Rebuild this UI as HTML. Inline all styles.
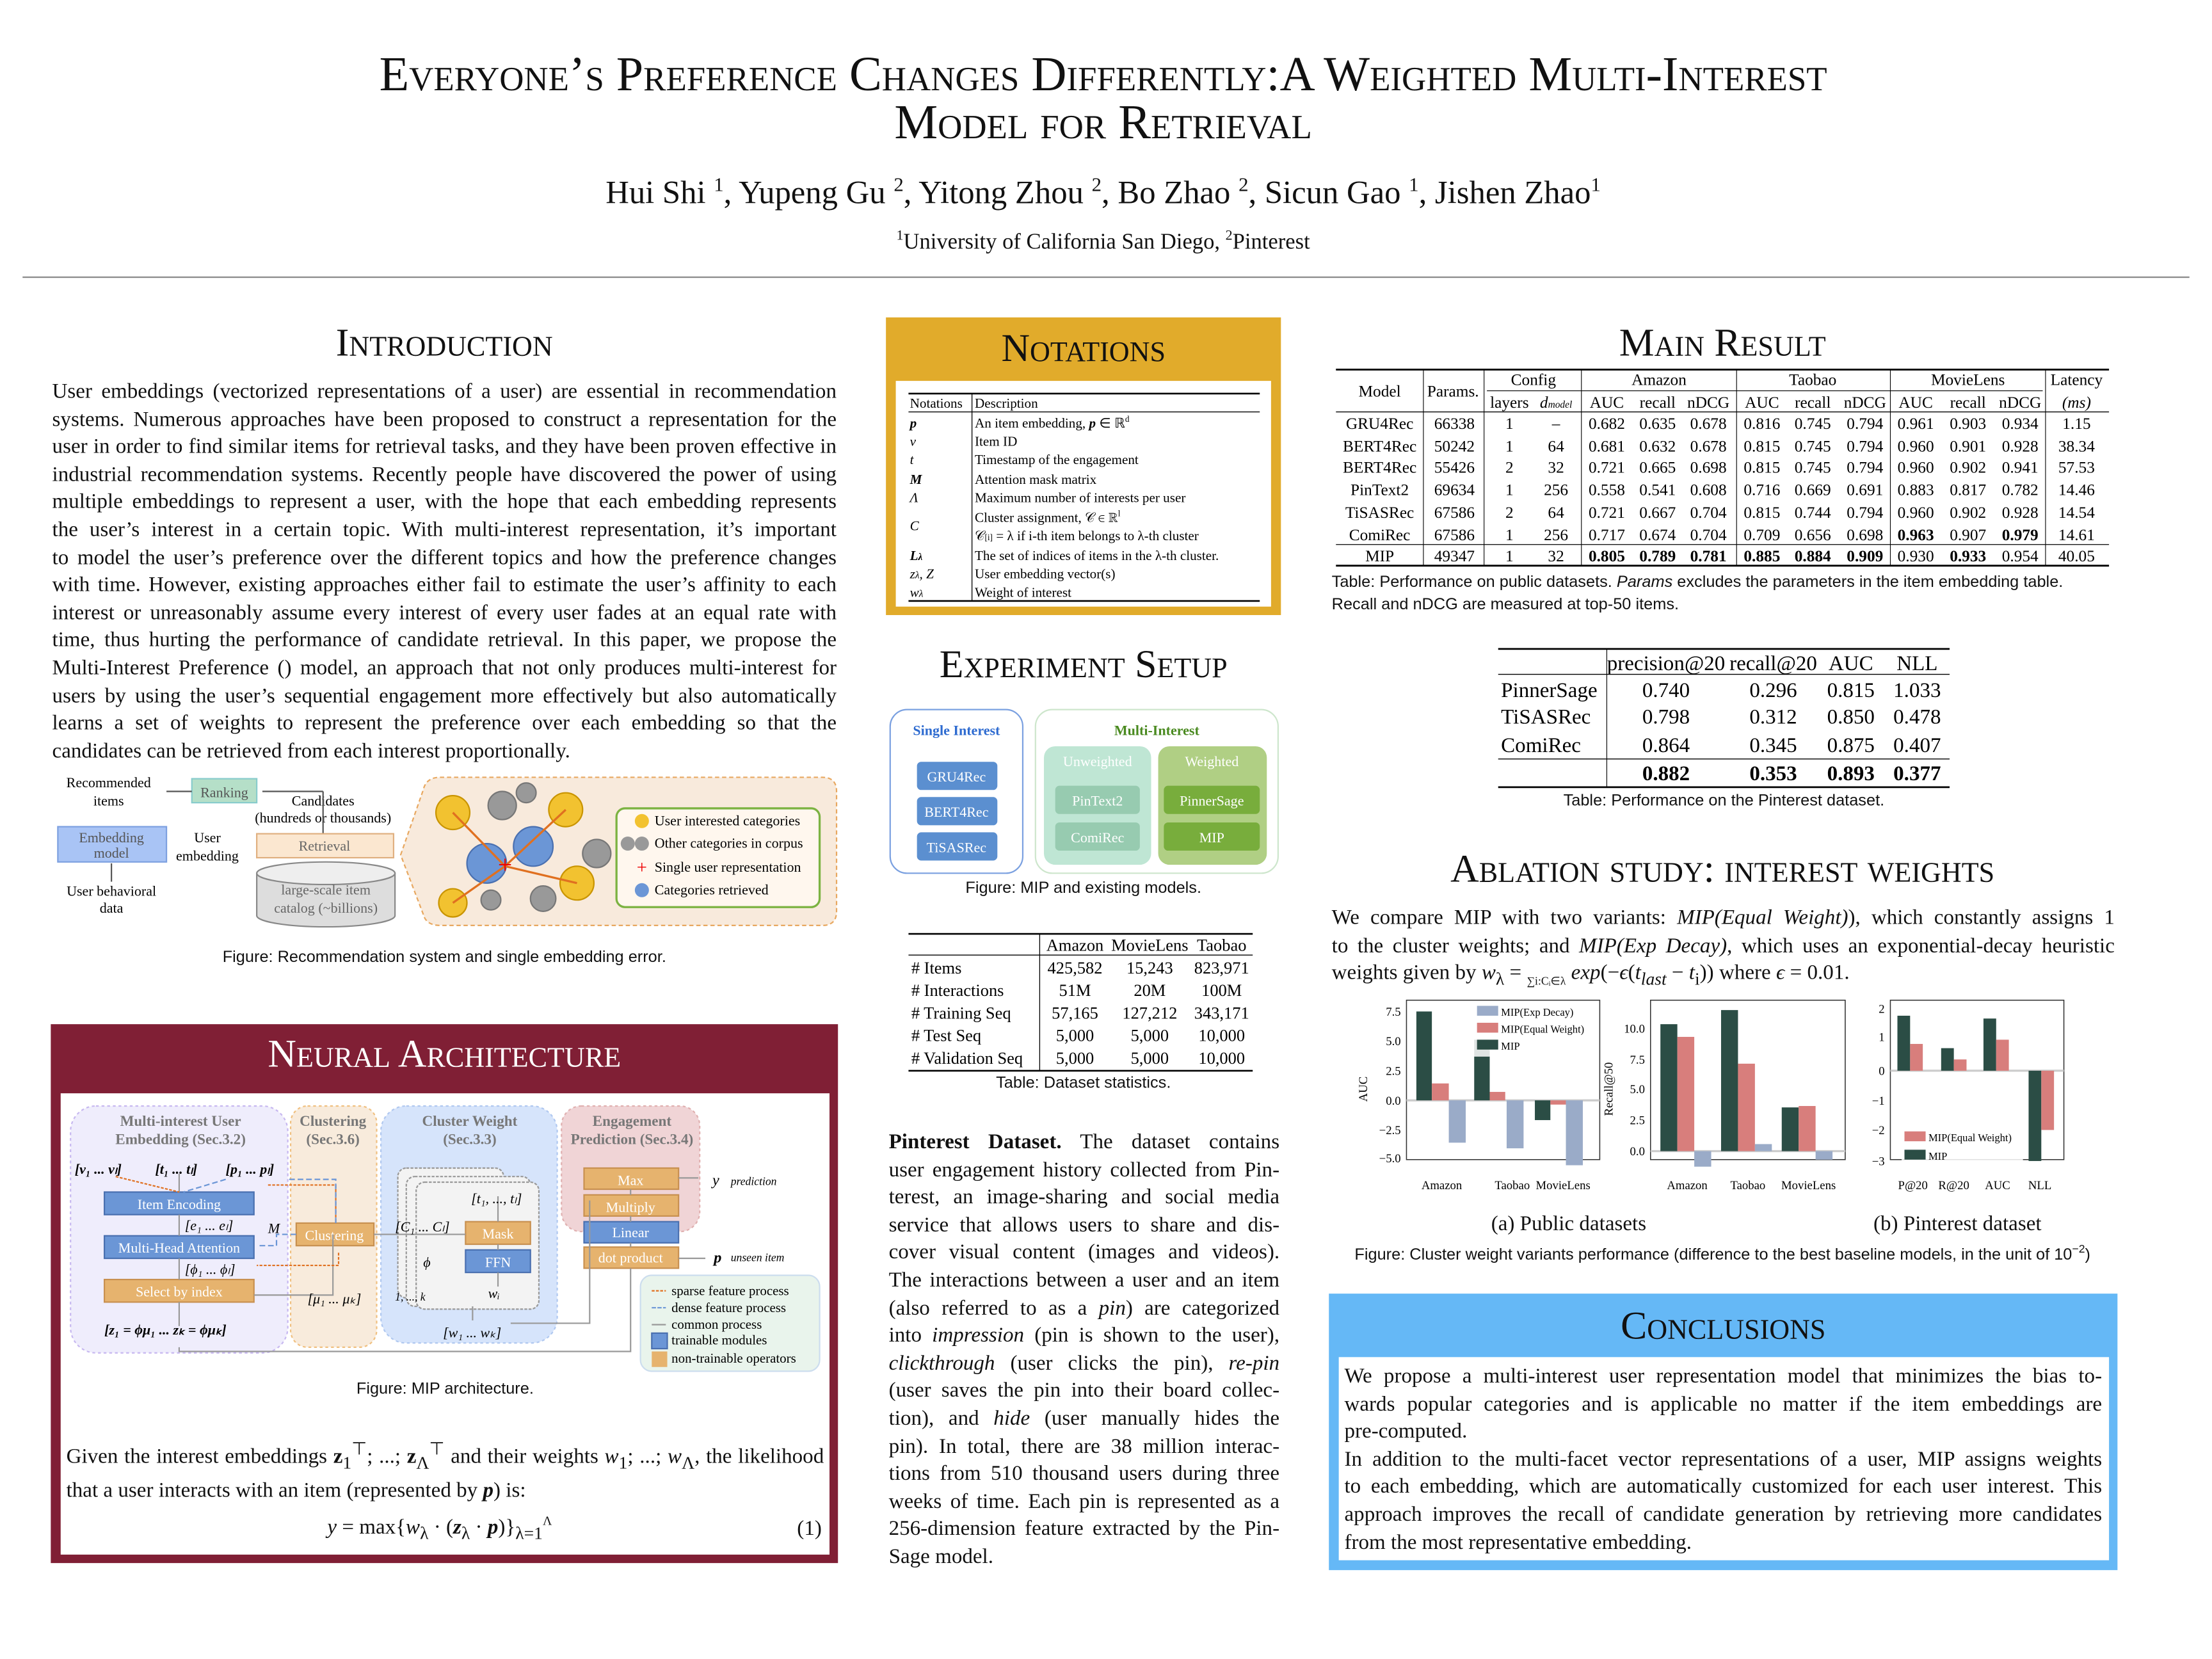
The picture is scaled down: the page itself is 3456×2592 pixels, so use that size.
<!DOCTYPE html>
<html><head><meta charset="utf-8">
<style>
*{margin:0;padding:0;box-sizing:border-box}
html,body{width:3456px;height:2592px;overflow:hidden;background:#fff}
#pg{position:absolute;left:0;top:0;width:1568px;height:1176px;transform:scale(2.20408);transform-origin:0 0;font-family:"Liberation Serif",serif;color:#111}
.a{position:absolute}
.h{font-variant:small-caps;text-align:center;white-space:nowrap}
.cap{font-family:"Liberation Sans",sans-serif;font-size:11.5px;text-align:center;white-space:nowrap}
.p{font-size:15px;line-height:19.6px}
.p span{display:block;text-align:justify;text-align-last:justify;white-space:nowrap}
.p span.l{text-align-last:left}
svg text{font-family:"Liberation Serif",serif}
</style></head><body><div id="pg">

<div class="a h" style="left:0;width:1564px;top:36px;font-size:34.6px;line-height:34px">Everyone’s Preference Changes Differently:A Weighted Multi-Interest<br>Model for Retrieval</div>
<div class="a" style="left:0;width:1564px;top:124px;font-size:23px;text-align:center">Hui Shi <sup style="font-size:14px">1</sup>, Yupeng Gu <sup style="font-size:14px">2</sup>, Yitong Zhou <sup style="font-size:14px">2</sup>, Bo Zhao <sup style="font-size:14px">2</sup>, Sicun Gao <sup style="font-size:14px">1</sup>, Jishen Zhao<sup style="font-size:14px">1</sup></div>
<div class="a" style="left:0;width:1564px;top:162px;font-size:15.7px;text-align:center"><sup style="font-size:10px">1</sup>University of California San Diego, <sup style="font-size:10px">2</sup>Pinterest</div>
<div class="a" style="left:16px;top:196px;width:1536px;height:1px;background:#888"></div>

<!-- Introduction -->
<div class="a h" style="left:37px;width:556px;top:228px;font-size:28px">Introduction</div>
<div class="a p" style="left:37px;top:269px;width:556px">
<span>User embeddings (vectorized representations of a user) are essential in recommendation</span>
<span>systems. Numerous approaches have been proposed to construct a representation for the</span>
<span>user in order to find similar items for retrieval tasks, and they have been proven effective in</span>
<span>industrial recommendation systems. Recently people have discovered the power of using</span>
<span>multiple embeddings to represent a user, with the hope that each embedding represents</span>
<span>the user’s interest in a certain topic. With multi-interest representation, it’s important</span>
<span>to model the user’s preference over the different topics and how the preference changes</span>
<span>with time. However, existing approaches either fail to estimate the user’s affinity to each</span>
<span>interest or unreasonably assume every interest of every user fades at an equal rate with</span>
<span>time, thus hurting the performance of candidate retrieval. In this paper, we propose the</span>
<span>Multi-Interest Preference () model, an approach that not only produces multi-interest for</span>
<span>users by using the user’s sequential engagement more effectively but also automatically</span>
<span>learns a set of weights to represent the preference over each embedding so that the</span>
<span class="l">candidates can be retrieved from each interest proportionally.</span>
</div>

<!-- Fig 1 -->
<svg class="a" style="left:36px;top:545px" width="560" height="120" viewBox="36 545 560 120">
<g font-size="10" text-anchor="middle">
<text x="77" y="558">Recommended</text><text x="77" y="571">items</text>
<rect x="136" y="552" width="46" height="17" fill="#b5dfc8" stroke="#8cc"/><text x="159" y="565" fill="#555">Ranking</text>
<line x1="136" y1="561" x2="118" y2="561" stroke="#555"/>
<text x="229" y="571">Candidates</text><text x="229" y="583">(hundreds or thousands)</text>
<line x1="229" y1="561" x2="229" y2="592" stroke="#555"/><line x1="229" y1="561" x2="186" y2="561" stroke="#555"/>
<rect x="41" y="586" width="77" height="25" fill="#a9c4f5" stroke="#7da0e0"/><text x="79" y="597" fill="#555">Embedding</text><text x="79" y="608" fill="#555">model</text>
<text x="147" y="597">User</text><text x="147" y="610">embedding</text>
<rect x="182" y="591" width="97" height="17" fill="#fbe7d0" stroke="#e0b080"/><text x="230" y="603" fill="#666">Retrieval</text>
<text x="79" y="635">User behavioral</text><text x="79" y="647">data</text>
<line x1="79" y1="625" x2="79" y2="612" stroke="#555"/>
<path d="M182 619 v30 a49 8 0 0 0 98 0 v-30" fill="#ddd" stroke="#888"/><ellipse cx="231" cy="619" rx="49" ry="8" fill="#eee" stroke="#888"/>
<text x="231" y="634" fill="#666">large-scale item</text><text x="231" y="647" fill="#666">catalog (~billions)</text>
</g>
<path d="M284 606 L300 560 Q302 551 312 551 L583 551 Q593 551 593 561 L593 646 Q593 656 583 656 L312 656 Q302 656 300 648 Z" fill="#f8eadc" stroke="#e8a860" stroke-dasharray="3,2"/>
<g stroke="#c99400" fill="#f2c230"><circle cx="321" cy="576" r="12"/><circle cx="401" cy="574" r="12"/><circle cx="409" cy="626" r="12"/><circle cx="321" cy="640" r="10"/></g>
<g fill="#999" stroke="#777"><circle cx="356" cy="571" r="10"/><circle cx="423" cy="605" r="10"/><circle cx="385" cy="637" r="9"/><circle cx="348" cy="638" r="7"/><circle cx="373" cy="562" r="7"/></g>
<g fill="#6b96d6" stroke="#4a70b0"><circle cx="345" cy="612" r="14"/><circle cx="378" cy="600" r="14"/></g>
<path d="M321 576 L358 614 M401 574 L358 614 M409 626 L358 614 M321 640 L358 614" stroke="#e07020" stroke-width="1.5"/>
<text x="358" y="619" fill="#e00" font-size="18" text-anchor="middle">+</text>
<rect x="437" y="573" width="144" height="70" rx="6" fill="#fff7ee" stroke="#7cb342" stroke-width="1.5"/>
<g font-size="10"><circle cx="455" cy="582" r="5" fill="#f2c230"/><text x="464" y="585">User interested categories</text>
<circle cx="445" cy="598" r="5" fill="#999"/><circle cx="455" cy="598" r="5" fill="#999"/><text x="464" y="601">Other categories in corpus</text>
<text x="455" y="619" fill="#e00" font-size="13" text-anchor="middle">+</text><text x="464" y="618">Single user representation</text>
<circle cx="455" cy="631" r="5" fill="#6b96d6"/><text x="464" y="634">Categories retrieved</text></g>
</svg>
<div class="a cap" style="left:37px;width:556px;top:673px">Figure: Recommendation system and single embedding error.</div>

<!-- Neural Architecture -->
<div class="a" style="left:36px;top:726px;width:558px;height:382px;background:#801f35"></div>
<div class="a h" style="left:36px;width:558px;top:732px;font-size:28px;color:#fff">Neural Architecture</div>
<div class="a" style="left:43px;top:775px;width:545px;height:327px;background:#fff"></div>
<svg class="a" style="left:43px;top:775px" width="545" height="215" viewBox="43 775 545 215">
<g font-size="10">
<rect x="50" y="784" width="154" height="175" rx="18" fill="#efedfc" stroke="#c7b8f0" stroke-dasharray="2,2"/>
<rect x="206" y="784" width="61" height="171" rx="12" fill="#f8ebdc" stroke="#f0c080" stroke-dasharray="2,2"/>
<rect x="270" y="784" width="125" height="168" rx="18" fill="#d6e4fb" stroke="#b0c8f0" stroke-dasharray="2,2"/>
<rect x="398" y="784" width="98" height="89" rx="14" fill="#f0d4d6" stroke="#e0b0b0" stroke-dasharray="2,2"/>
<g fill="#777" text-anchor="middle" font-weight="bold" font-size="10.5">
<text x="128" y="798">Multi-interest User</text><text x="128" y="811">Embedding (Sec.3.2)</text>
<text x="236" y="798">Clustering</text><text x="236" y="811">(Sec.3.6)</text>
<text x="333" y="798">Cluster Weight</text><text x="333" y="811">(Sec.3.3)</text>
<text x="448" y="798">Engagement</text><text x="448" y="811">Prediction (Sec.3.4)</text></g>
<g font-style="italic" font-weight="bold" font-size="10"><text x="53" y="832">[v₁ ... vₗ]</text><text x="110" y="832">[t₁ ... tₗ]</text><text x="160" y="832">[p₁ ... pₗ]</text></g>
<rect x="282" y="828" width="75" height="92" rx="6" fill="#f3f3f3" stroke="#999" stroke-dasharray="2,1"/>
<rect x="288" y="834" width="88" height="92" rx="6" fill="#f3f3f3" stroke="#999" stroke-dasharray="2,1"/>
<rect x="295" y="838" width="87" height="90" rx="6" fill="#f3f3f3" stroke="#999" stroke-dasharray="2,1"/>
<g fill="#6b96d6" stroke="#4a70b0"><rect x="74" y="845" width="106" height="16"/><rect x="74" y="876" width="106" height="16"/><rect x="414" y="866" width="67" height="15"/></g>
<g fill="#e6b36e" stroke="#c89050"><rect x="74" y="907" width="106" height="16"/><rect x="210" y="867" width="55" height="16"/><rect x="414" y="828" width="67" height="15"/><rect x="414" y="847" width="67" height="15"/><rect x="414" y="884" width="67" height="15"/></g>
<rect x="330" y="866" width="46" height="16" fill="#e6b36e" stroke="#c89050"/>
<rect x="330" y="886" width="46" height="16" fill="#6b96d6" stroke="#4a70b0"/>
<g fill="#fff" text-anchor="middle"><text x="127" y="857">Item Encoding</text><text x="127" y="888">Multi-Head Attention</text><text x="127" y="919">Select by index</text><text x="237" y="879">Clustering</text><text x="353" y="878">Mask</text><text x="353" y="898">FFN</text><text x="447" y="840">Max</text><text x="447" y="859">Multiply</text><text x="447" y="877">Linear</text><text x="447" y="895">dot product</text></g>
<g stroke="#999" fill="none"><path d="M127 832 V845 M127 861 V876 M127 892 V907 M127 923 V940 M265 875 H330 M236 875 V918 H180 M353 848 V866 M353 882 V886 M353 902 V912 M335 926 V936 M362 938 H418 V851 M127 955 V958 H447 V899 M447 847 V843 M447 866 V862 M447 884 V881 M481 835 H495 M500 892 H481"/></g>
<path d="M82 834 L127 845 M190 840 H238 V867 M240 888 V897 H182" stroke="#e07020" stroke-dasharray="2,1" fill="none"/>
<path d="M160 836 L130 845 M205 836 H238 V867 M210 875 H196 V883 H182" stroke="#6b96d6" stroke-dasharray="4,2" fill="none"/>
<g font-style="italic" font-size="10"><text x="131" y="872">[e₁ ... eₗ]</text><text x="131" y="903">[ϕ₁ ... ϕₗ]</text><text x="190" y="874">M</text><text x="280" y="873">[C₁ ... Cₗ]</text><text x="334" y="853">[t₁, ..., tₗ]</text><text x="300" y="898">ϕ</text><text x="346" y="920">wᵢ</text><text x="218" y="924">[μ₁ ... μₖ]</text><text x="314" y="948">[w₁ ... wₖ]</text><text x="280" y="922" font-size="8">1, ..., k</text>
<text x="74" y="946" font-weight="bold">[z₁ = ϕμ₁ ... zₖ = ϕμₖ]</text>
<text x="505" y="840" font-size="11">y</text><text x="518" y="840" font-size="8">prediction</text><text x="506" y="895" font-size="11" font-weight="bold">p</text><text x="518" y="894" font-size="8">unseen item</text></g>
<rect x="454" y="904" width="127" height="68" rx="8" fill="#e9f4ec" stroke="#cde"/>
<g font-size="9.5"><text x="476" y="918">sparse feature process</text><text x="476" y="930">dense feature process</text><text x="476" y="942">common process</text><text x="476" y="953">trainable modules</text><text x="476" y="966">non-trainable operators</text></g>
<path d="M462 915 H472" stroke="#e07020" stroke-dasharray="2,1"/><path d="M462 927 H472" stroke="#6b96d6" stroke-dasharray="3,1"/><path d="M462 939 H472" stroke="#999"/>
<rect x="462" y="945" width="11" height="11" fill="#6b96d6" stroke="#4a70b0"/><rect x="462" y="958" width="11" height="11" fill="#e6b36e"/>
</g></svg>
<div class="a cap" style="left:43px;width:545px;top:979px">Figure: MIP architecture.</div>
<div class="a" style="left:47px;top:1017px;width:537px;font-size:15px;line-height:20px;text-align:justify">Given the interest embeddings <b>z</b><sub>1</sub><sup>⊤</sup>; ...; <b>z</b><sub>Λ</sub><sup>⊤</sup> and their weights <i>w</i><sub>1</sub>; ...; <i>w</i><sub>Λ</sub>, the likelihood that a user interacts with an item (represented by <b><i>p</i></b>) is:</div>
<div class="a" style="left:232px;top:1073px;font-size:15px"><i>y</i> = max{<i>w</i><sub>λ</sub> · (<b><i>z</i></b><sub>λ</sub> · <b><i>p</i></b>)}<sub>λ=1</sub><sup style="font-size:9px">Λ</sup></div>
<div class="a" style="left:565px;top:1076px;font-size:15px">(1)</div>

<!-- Notations -->
<div class="a" style="left:628px;top:225px;width:280px;height:211px;background:#e1ab2b"></div>
<div class="a h" style="left:628px;width:280px;top:232px;font-size:28px">Notations</div>
<div class="a" style="left:635px;top:270px;width:266px;height:160px;background:#fff"></div>
<svg class="a" style="left:635px;top:270px" width="266" height="160" viewBox="635 270 266 160">
<g stroke="#000"><line x1="644" y1="279" x2="893" y2="279" stroke-width="1.2"/><line x1="644" y1="292" x2="893" y2="292" stroke-width=".6"/><line x1="644" y1="426" x2="893" y2="426" stroke-width="1.2"/><line x1="689" y1="279" x2="689" y2="426" stroke-width=".6"/></g>
<g font-size="9.6"><text x="645" y="289">Notations</text><text x="691" y="289">Description</text>
<g font-style="italic"><text x="645" y="303" font-weight="bold">p</text><text x="645" y="316">v</text><text x="645" y="329">t</text><text x="645" y="343" font-weight="bold">M</text><text x="645" y="356">Λ</text><text x="645" y="376">C</text><text x="645" y="397" font-weight="bold">L<tspan font-size="7">λ</tspan></text><text x="645" y="410">z<tspan font-size="7">λ</tspan>, Z</text><text x="645" y="423">w<tspan font-size="7">λ</tspan></text></g>
<text x="691" y="303">An item embedding, <tspan font-style="italic" font-weight="bold">p</tspan> ∈ ℝ<tspan font-size="6" dy="-4">d</tspan></text><text x="691" y="316">Item ID</text><text x="691" y="329">Timestamp of the engagement</text><text x="691" y="343">Attention mask matrix</text><text x="691" y="356">Maximum number of interests per user</text><text x="691" y="370">Cluster assignment, 𝒞 ∈ ℝ<tspan font-size="6" dy="-4">l</tspan></text><text x="691" y="383">𝒞<tspan font-size="6">[i]</tspan> = λ if i-th item belongs to λ-th cluster</text><text x="691" y="397">The set of indices of items in the λ-th cluster.</text><text x="691" y="410">User embedding vector(s)</text><text x="691" y="423">Weight of interest</text></g>
</svg>

<!-- Experiment Setup -->
<div class="a h" style="left:628px;width:280px;top:456px;font-size:28px">Experiment Setup</div>
<svg class="a" style="left:628px;top:500px" width="282" height="124" viewBox="628 500 282 124">
<rect x="631" y="503" width="94" height="116" rx="12" fill="#fff" stroke="#7aa0e0"/>
<rect x="734" y="503" width="172" height="116" rx="12" fill="#fff" stroke="#cde6cc"/>
<rect x="740" y="529" width="76" height="84" rx="8" fill="#bfe6d4"/><rect x="821" y="529" width="77" height="84" rx="8" fill="#b0cf84"/>
<g font-family="Liberation Sans" font-size="10" text-anchor="middle" font-weight="bold"><text x="678" y="521" fill="#2e6bd0">Single Interest</text><text x="820" y="521" fill="#4a8a20">Multi-Interest</text>
<text x="778" y="543" fill="#fff" font-weight="normal">Unweighted</text><text x="859" y="543" fill="#fff" font-weight="normal">Weighted</text></g>
<g fill="#5b8fd0"><rect x="650" y="540" width="57" height="20" rx="3"/><rect x="650" y="565" width="57" height="20" rx="3"/><rect x="650" y="590" width="57" height="20" rx="3"/></g>
<g fill="#97cbb0"><rect x="748" y="557" width="60" height="20" rx="3"/><rect x="748" y="583" width="60" height="20" rx="3"/></g>
<g fill="#78ad3c"><rect x="825" y="557" width="68" height="20" rx="3"/><rect x="825" y="583" width="68" height="20" rx="3"/></g>
<g font-family="Liberation Sans" font-size="10" fill="#fff" text-anchor="middle"><text x="678" y="554">GRU4Rec</text><text x="678" y="579">BERT4Rec</text><text x="678" y="604">TiSASRec</text><text x="778" y="571">PinText2</text><text x="778" y="597">ComiRec</text><text x="859" y="571">PinnerSage</text><text x="859" y="597">MIP</text></g>
</svg>
<div class="a cap" style="left:628px;width:280px;top:624px">Figure: MIP and existing models.</div>
<svg class="a" style="left:640px;top:658px" width="252" height="106" viewBox="640 658 252 106">
<g stroke="#000"><line x1="644" y1="662" x2="888" y2="662" stroke-width="1.2"/><line x1="644" y1="677" x2="888" y2="677" stroke-width=".6"/><line x1="644" y1="759" x2="888" y2="759" stroke-width="1.2"/><line x1="737" y1="662" x2="737" y2="759" stroke-width=".6"/></g>
<g font-size="12"><g text-anchor="middle"><text x="762" y="674">Amazon</text><text x="815" y="674">MovieLens</text><text x="866" y="674">Taobao</text>
<text x="762" y="690">425,582</text><text x="815" y="690">15,243</text><text x="866" y="690">823,971</text>
<text x="762" y="706">51M</text><text x="815" y="706">20M</text><text x="866" y="706">100M</text>
<text x="762" y="722">57,165</text><text x="815" y="722">127,212</text><text x="866" y="722">343,171</text>
<text x="762" y="738">5,000</text><text x="815" y="738">5,000</text><text x="866" y="738">10,000</text>
<text x="762" y="754">5,000</text><text x="815" y="754">5,000</text><text x="866" y="754">10,000</text></g>
<text x="646" y="690"># Items</text><text x="646" y="706"># Interactions</text><text x="646" y="722"># Training Seq</text><text x="646" y="738"># Test Seq</text><text x="646" y="754"># Validation Seq</text></g>
</svg>
<div class="a cap" style="left:628px;width:280px;top:762px">Table: Dataset statistics.</div>
<div class="a p" style="left:630px;top:801px;width:277px">
<span><b>Pinterest Dataset.</b> The dataset contains</span>
<span>user engagement history collected from Pin-</span>
<span>terest, an image-sharing and social media</span>
<span>service that allows users to share and dis-</span>
<span>cover visual content (images and videos).</span>
<span>The interactions between a user and an item</span>
<span>(also referred to as a <i>pin</i>) are categorized</span>
<span>into <i>impression</i> (pin is shown to the user),</span>
<span><i>clickthrough</i> (user clicks the pin), <i>re-pin</i></span>
<span>(user saves the pin into their board collec-</span>
<span>tion), and <i>hide</i> (user manually hides the</span>
<span>pin). In total, there are 38 million interac-</span>
<span>tions from 510 thousand users during three</span>
<span>weeks of time. Each pin is represented as a</span>
<span>256-dimension feature extracted by the Pin-</span>
<span class="l">Sage model.</span>
</div>

<!-- Main result -->
<div class="a h" style="left:942px;width:558px;top:228px;font-size:28px">Main Result</div>
<svg class="a" style="left:945px;top:258px" width="552" height="147" viewBox="945 258 552 147">
<g stroke="#000"><line x1="947" y1="262" x2="1495" y2="262" stroke-width="1.3"/><line x1="1054" y1="277" x2="1448" y2="277" stroke-width=".5"/><line x1="947" y1="292" x2="1495" y2="292" stroke-width=".6"/><line x1="947" y1="386" x2="1495" y2="386" stroke-width=".6"/><line x1="947" y1="401" x2="1495" y2="401" stroke-width="1.3"/>
<g stroke-width=".5"><line x1="1009" y1="262" x2="1009" y2="401"/><line x1="1052" y1="262" x2="1052" y2="401"/><line x1="1121" y1="262" x2="1121" y2="401"/><line x1="1231" y1="262" x2="1231" y2="401"/><line x1="1340" y1="262" x2="1340" y2="401"/><line x1="1450" y1="262" x2="1450" y2="401"/></g></g>
<g font-size="11.5" text-anchor="middle">
<text x="978" y="281">Model</text><text x="1030" y="281">Params.</text><text x="1087" y="273">Config</text><text x="1176" y="273">Amazon</text><text x="1285" y="273">Taobao</text><text x="1395" y="273">MovieLens</text><text x="1472" y="273">Latency</text>
<text x="1070" y="289">layers</text><text x="1103" y="289" font-style="italic">d<tspan font-size="7">model</tspan></text><text x="1139" y="289">AUC</text><text x="1175" y="289">recall</text><text x="1211" y="289">nDCG</text><text x="1249" y="289">AUC</text><text x="1285" y="289">recall</text><text x="1322" y="289">nDCG</text><text x="1358" y="289">AUC</text><text x="1395" y="289">recall</text><text x="1432" y="289">nDCG</text><text x="1472" y="289" font-style="italic">(ms)</text>
<text x="978" y="304">GRU4Rec</text><text x="1031" y="304">66338</text><text x="1070" y="304">1</text><text x="1103" y="304">–</text><text x="1139" y="304">0.682</text><text x="1175" y="304">0.635</text><text x="1211" y="304">0.678</text><text x="1249" y="304">0.816</text><text x="1285" y="304">0.745</text><text x="1322" y="304">0.794</text><text x="1358" y="304">0.961</text><text x="1395" y="304">0.903</text><text x="1432" y="304">0.934</text><text x="1472" y="304">1.15</text>
<text x="978" y="320">BERT4Rec</text><text x="1031" y="320">50242</text><text x="1070" y="320">1</text><text x="1103" y="320">64</text><text x="1139" y="320">0.681</text><text x="1175" y="320">0.632</text><text x="1211" y="320">0.678</text><text x="1249" y="320">0.815</text><text x="1285" y="320">0.745</text><text x="1322" y="320">0.794</text><text x="1358" y="320">0.960</text><text x="1395" y="320">0.901</text><text x="1432" y="320">0.928</text><text x="1472" y="320">38.34</text>
<text x="978" y="335">BERT4Rec</text><text x="1031" y="335">55426</text><text x="1070" y="335">2</text><text x="1103" y="335">32</text><text x="1139" y="335">0.721</text><text x="1175" y="335">0.665</text><text x="1211" y="335">0.698</text><text x="1249" y="335">0.815</text><text x="1285" y="335">0.745</text><text x="1322" y="335">0.794</text><text x="1358" y="335">0.960</text><text x="1395" y="335">0.902</text><text x="1432" y="335">0.941</text><text x="1472" y="335">57.53</text>
<text x="978" y="351">PinText2</text><text x="1031" y="351">69634</text><text x="1070" y="351">1</text><text x="1103" y="351">256</text><text x="1139" y="351">0.558</text><text x="1175" y="351">0.541</text><text x="1211" y="351">0.608</text><text x="1249" y="351">0.716</text><text x="1285" y="351">0.669</text><text x="1322" y="351">0.691</text><text x="1358" y="351">0.883</text><text x="1395" y="351">0.817</text><text x="1432" y="351">0.782</text><text x="1472" y="351">14.46</text>
<text x="978" y="367">TiSASRec</text><text x="1031" y="367">67586</text><text x="1070" y="367">2</text><text x="1103" y="367">64</text><text x="1139" y="367">0.721</text><text x="1175" y="367">0.667</text><text x="1211" y="367">0.704</text><text x="1249" y="367">0.815</text><text x="1285" y="367">0.744</text><text x="1322" y="367">0.794</text><text x="1358" y="367">0.960</text><text x="1395" y="367">0.902</text><text x="1432" y="367">0.928</text><text x="1472" y="367">14.54</text>
<text x="978" y="383">ComiRec</text><text x="1031" y="383">67586</text><text x="1070" y="383">1</text><text x="1103" y="383">256</text><text x="1139" y="383">0.717</text><text x="1175" y="383">0.674</text><text x="1211" y="383">0.704</text><text x="1249" y="383">0.709</text><text x="1285" y="383">0.656</text><text x="1322" y="383">0.698</text><text x="1358" y="383" font-weight="bold">0.963</text><text x="1395" y="383">0.907</text><text x="1432" y="383" font-weight="bold">0.979</text><text x="1472" y="383">14.61</text>
<text x="978" y="398">MIP</text><text x="1031" y="398">49347</text><text x="1070" y="398">1</text><text x="1103" y="398">32</text><g font-weight="bold"><text x="1139" y="398">0.805</text><text x="1175" y="398">0.789</text><text x="1211" y="398">0.781</text><text x="1249" y="398">0.885</text><text x="1285" y="398">0.884</text><text x="1322" y="398">0.909</text></g><text x="1358" y="398">0.930</text><text x="1395" y="398" font-weight="bold">0.933</text><text x="1432" y="398">0.954</text><text x="1472" y="398">40.05</text>
</g></svg>
<div class="a" style="left:944px;top:405px;font-family:'Liberation Sans',sans-serif;font-size:11.5px;line-height:16px;white-space:nowrap">Table: Performance on public datasets. <i>Params</i> excludes the parameters in the item embedding table.<br>Recall and nDCG are measured at top-50 items.</div>

<svg class="a" style="left:1060px;top:456px" width="325" height="106" viewBox="1060 456 325 106">
<g stroke="#000"><line x1="1062" y1="460" x2="1382" y2="460" stroke-width="1.2"/><line x1="1062" y1="478" x2="1382" y2="478" stroke-width=".6"/><line x1="1062" y1="538" x2="1382" y2="538" stroke-width=".6"/><line x1="1062" y1="558" x2="1382" y2="558" stroke-width="1.2"/><line x1="1139" y1="460" x2="1139" y2="558" stroke-width=".5"/></g>
<g font-size="15" text-anchor="middle"><text x="1181" y="475">precision@20</text><text x="1257" y="475">recall@20</text><text x="1312" y="475">AUC</text><text x="1359" y="475">NLL</text>
<text x="1181" y="494">0.740</text><text x="1257" y="494">0.296</text><text x="1312" y="494">0.815</text><text x="1359" y="494">1.033</text>
<text x="1181" y="513">0.798</text><text x="1257" y="513">0.312</text><text x="1312" y="513">0.850</text><text x="1359" y="513">0.478</text>
<text x="1181" y="533">0.864</text><text x="1257" y="533">0.345</text><text x="1312" y="533">0.875</text><text x="1359" y="533">0.407</text>
<g font-weight="bold"><text x="1181" y="553">0.882</text><text x="1257" y="553">0.353</text><text x="1312" y="553">0.893</text><text x="1359" y="553">0.377</text></g>
<g text-anchor="start"><text x="1064" y="494">PinnerSage</text><text x="1064" y="513">TiSASRec</text><text x="1064" y="533">ComiRec</text></g></g></svg>
<div class="a cap" style="left:1062px;width:320px;top:562px">Table: Performance on the Pinterest dataset.</div>

<!-- Ablation -->
<div class="a h" style="left:942px;width:558px;top:601px;font-size:28px">Ablation study: interest weights</div>
<div class="a p" style="left:944px;top:642px;width:555px">
<span>We compare MIP with two variants: <i>MIP(Equal Weight)</i>), which constantly assigns 1</span>
<span>to the cluster weights; and <i>MIP(Exp Decay)</i>, which uses an exponential-decay heuristic</span>
<span class="l">weights given by <i>w</i><sub>λ</sub> = <sub style="font-size:8px">∑i:Cᵢ∈λ</sub> <i>exp</i>(−<i>ϵ</i>(<i>t</i><sub><i>last</i></sub> − <i>t</i><sub>i</sub>)) where <i>ϵ</i> = 0.01.</span>
</div>
<svg class="a" style="left:950px;top:700px" width="520" height="160" viewBox="950 700 520 160">
<g font-size="8.5">
<rect x="997" y="709" width="137" height="113" fill="#fff" stroke="#333" stroke-width=".7"/>
<line x1="997" y1="780" x2="1134" y2="780" stroke="#ccc" stroke-width="1.5"/>
<g fill="#2b4d45"><rect x="1004" y="717" width="11" height="63"/><rect x="1045" y="737" width="11" height="43"/><rect x="1088" y="780" width="11" height="14"/></g>
<g fill="#d87e7c"><rect x="1015" y="768" width="12" height="12"/><rect x="1056" y="774" width="11" height="6"/><rect x="1099" y="780" width="11" height="3"/></g>
<g fill="#9aabc8"><rect x="1027" y="780" width="12" height="30"/><rect x="1068" y="780" width="12" height="34"/><rect x="1110" y="780" width="12" height="46"/></g>
<rect x="1044" y="710" width="88" height="39" fill="#fff" opacity=".85"/>
<rect x="1047" y="713" width="15" height="7" fill="#9aabc8"/><rect x="1047" y="725" width="15" height="7" fill="#d87e7c"/><rect x="1047" y="737" width="15" height="7" fill="#2b4d45"/>
<text x="1064" y="720" font-size="7.5">MIP(Exp Decay)</text><text x="1064" y="732" font-size="7.5">MIP(Equal Weight)</text><text x="1064" y="744" font-size="7.5">MIP</text>
<g text-anchor="end"><text x="993" y="720">7.5</text><text x="993" y="741">5.0</text><text x="993" y="762">2.5</text><text x="993" y="783">0.0</text><text x="993" y="804">−2.5</text><text x="993" y="824">−5.0</text></g>
<text transform="translate(969,772) rotate(-90)" text-anchor="middle">AUC</text>
<g text-anchor="middle"><text x="1022" y="843">Amazon</text><text x="1072" y="843">Taobao</text><text x="1108" y="843">MovieLens</text></g>
<rect x="1170" y="709" width="138" height="113" fill="#fff" stroke="#333" stroke-width=".7"/>
<line x1="1170" y1="816" x2="1308" y2="816" stroke="#ccc" stroke-width="1.5"/>
<g fill="#2b4d45"><rect x="1177" y="726" width="12" height="90"/><rect x="1220" y="716" width="12" height="100"/><rect x="1263" y="785" width="12" height="31"/></g>
<g fill="#d87e7c"><rect x="1189" y="735" width="12" height="81"/><rect x="1232" y="754" width="12" height="62"/><rect x="1275" y="784" width="12" height="32"/></g>
<g fill="#9aabc8"><rect x="1201" y="816" width="12" height="11"/><rect x="1244" y="811" width="12" height="5"/><rect x="1287" y="816" width="12" height="6"/></g>
<g text-anchor="end"><text x="1166" y="732">10.0</text><text x="1166" y="754">7.5</text><text x="1166" y="775">5.0</text><text x="1166" y="797">2.5</text><text x="1166" y="819">0.0</text></g>
<text transform="translate(1143,772) rotate(-90)" text-anchor="middle">Recall@50</text>
<g text-anchor="middle"><text x="1196" y="843">Amazon</text><text x="1239" y="843">Taobao</text><text x="1282" y="843">MovieLens</text></g>
<rect x="1340" y="709" width="123" height="113" fill="#fff" stroke="#333" stroke-width=".7"/>
<line x1="1340" y1="759" x2="1463" y2="759" stroke="#ccc" stroke-width="1.5"/>
<g fill="#2b4d45"><rect x="1345" y="720" width="9" height="39"/><rect x="1376" y="743" width="9" height="16"/><rect x="1406" y="722" width="9" height="37"/><rect x="1438" y="759" width="9" height="64"/></g>
<g fill="#d87e7c"><rect x="1354" y="740" width="9" height="19"/><rect x="1385" y="751" width="9" height="8"/><rect x="1415" y="737" width="9" height="22"/><rect x="1447" y="759" width="9" height="42"/></g>
<rect x="1348" y="795" width="86" height="36" fill="#fff" opacity=".85"/>
<rect x="1350" y="802" width="15" height="7" fill="#d87e7c"/><rect x="1350" y="815" width="15" height="7" fill="#2b4d45"/>
<text x="1367" y="809" font-size="7.5">MIP(Equal Weight)</text><text x="1367" y="822" font-size="7.5">MIP</text>
<g text-anchor="end"><text x="1336" y="718">2</text><text x="1336" y="738">1</text><text x="1336" y="762">0</text><text x="1336" y="783">−1</text><text x="1336" y="804">−2</text><text x="1336" y="826">−3</text></g>
<g text-anchor="middle"><text x="1356" y="843">P@20</text><text x="1385" y="843">R@20</text><text x="1416" y="843">AUC</text><text x="1446" y="843">NLL</text></g>
</g></svg>
<div class="a" style="left:1057px;top:860px;font-size:15px">(a) Public datasets</div>
<div class="a" style="left:1328px;top:860px;font-size:15px">(b) Pinterest dataset</div>
<div class="a cap" style="left:942px;width:558px;top:881px">Figure: Cluster weight variants performance (difference to the best baseline models, in the unit of 10<sup style="font-size:8px">−2</sup>)</div>

<!-- Conclusions -->
<div class="a" style="left:942px;top:917px;width:559px;height:196px;background:#65b8f6"></div>
<div class="a h" style="left:942px;width:559px;top:925px;font-size:28px">Conclusions</div>
<div class="a" style="left:949px;top:962px;width:546px;height:144px;background:#fff"></div>
<div class="a p" style="left:953px;top:967px;width:537px">
<span>We propose a multi-interest user representation model that minimizes the bias to-</span>
<span>wards popular categories and is applicable no matter if the item embeddings are</span>
<span class="l">pre-computed.</span>
<span>In addition to the multi-facet vector representations of a user, MIP assigns weights</span>
<span>to each embedding, which are automatically customized for each user interest. This</span>
<span>approach improves the recall of candidate generation by retrieving more candidates</span>
<span class="l">from the most representative embedding.</span>
</div>
</div></body></html>
